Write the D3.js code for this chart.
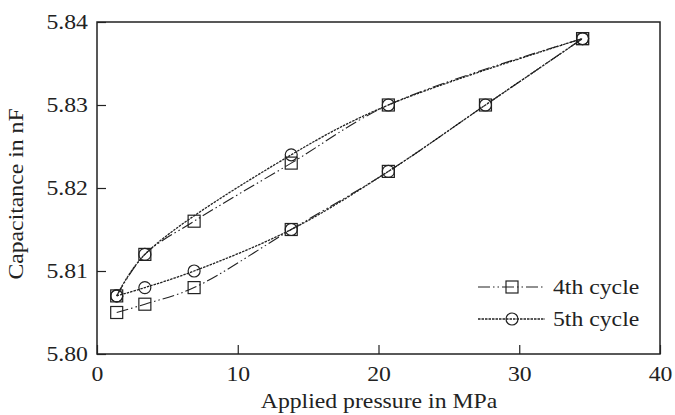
<!DOCTYPE html>
<html><head><meta charset="utf-8">
<script src="https://cdn.jsdelivr.net/npm/d3@7"></script>
<style>body{margin:0;background:#fff}svg{display:block}text{font-family:"Liberation Serif","Times New Roman",serif;fill:#222}</style>
</head><body><svg id="c" width="675" height="415"></svg>
<script>
const xTicks = [0, 10, 20, 30, 40];
const yTicks = [5.80, 5.81, 5.82, 5.83, 5.84];
const load4 = [[1.4,5.805],[3.4,5.806],[6.9,5.808],[13.8,5.815],[20.7,5.822],[27.6,5.830],[34.5,5.838]];
const unload4 = [[34.5,5.838],[20.7,5.830],[13.8,5.823],[6.9,5.816],[3.4,5.812],[1.4,5.807]];
const load5 = [[1.4,5.807],[3.4,5.808],[6.9,5.810],[13.8,5.815],[20.7,5.822],[27.6,5.830],[34.5,5.838]];
const unload5 = [[34.5,5.838],[20.7,5.830],[13.8,5.824],[3.4,5.812],[1.4,5.807]];
const seriesNames = ["4th cycle", "5th cycle"];

const svg = d3.select("#c");
const m = {l:97, r:660, t:22, b:354};
const x = d3.scaleLinear().domain([0,40]).range([m.l, m.r]);
const y = d3.scaleLinear().domain([5.80,5.84]).range([m.b, m.t]);
const col = "#222";
const FS = 21, SX = 1.13;

svg.append("rect").attr("x",m.l).attr("y",m.t).attr("width",m.r-m.l).attr("height",m.b-m.t)
  .attr("fill","none").attr("stroke",col).attr("stroke-width",1.5);

const xa = svg.append("g").attr("transform",`translate(0,${m.b})`)
  .call(d3.axisBottom(x).tickValues(xTicks).tickSize(-9).tickPadding(12).tickFormat(d3.format("d")));
const ya = svg.append("g").attr("transform",`translate(${m.l},0)`)
  .call(d3.axisLeft(y).tickValues(yTicks).tickSize(-9).tickPadding(8).tickFormat(d3.format(".2f")));
[xa,ya].forEach(a=>{a.select(".domain").remove();a.selectAll("line").attr("stroke",col).attr("stroke-width",1.2);
  a.selectAll("text").attr("font-size",FS).attr("fill",col).attr("transform",`scale(${SX},1)`);});
xa.selectAll("text").attr("dy","0.71em");

svg.append("text").attr("transform",`translate(379,408) scale(${SX},1)`).attr("text-anchor","middle").attr("font-size",FS).text("Applied pressure in MPa");
svg.append("text").attr("transform",`translate(23,194) rotate(-90) scale(${SX},1)`).attr("text-anchor","middle").attr("font-size",FS).text("Capacitance in nF");

const sortX = a => a.slice().sort((p,q)=>p[0]-q[0]);
const line = d3.line().x(d=>x(d[0])).y(d=>y(d[1])).curve(d3.curveCatmullRom.alpha(0.5));
const dash4 = "12,3,1.5,3,1.5,3";
const dash5 = "2.5,1";
[load4, unload4].forEach(b=>svg.append("path").attr("d",line(sortX(b))).attr("fill","none").attr("stroke",col).attr("stroke-width",1.1).attr("stroke-dasharray",dash4));
[load5, unload5].forEach(b=>svg.append("path").attr("d",line(sortX(b))).attr("fill","none").attr("stroke",col).attr("stroke-width",1.3).attr("stroke-dasharray",dash5));

const sq = 12, cr = 6;
svg.append("g").selectAll("rect").data(load4.concat(unload4)).join("rect")
  .attr("x",d=>x(d[0])-sq/2).attr("y",d=>y(d[1])-sq/2).attr("width",sq).attr("height",sq)
  .attr("fill","none").attr("stroke",col).attr("stroke-width",1.2);
svg.append("g").selectAll("circle").data(load5.concat(unload5)).join("circle")
  .attr("cx",d=>x(d[0])).attr("cy",d=>y(d[1])).attr("r",cr)
  .attr("fill","none").attr("stroke",col).attr("stroke-width",1.2);

const lg = svg.append("g");
const ly = [287, 319];
lg.append("line").attr("x1",478).attr("x2",545).attr("y1",ly[0]).attr("y2",ly[0]).attr("stroke",col).attr("stroke-width",1.1).attr("stroke-dasharray",dash4);
lg.append("rect").attr("x",512-sq/2).attr("y",ly[0]-sq/2).attr("width",sq).attr("height",sq).attr("fill","none").attr("stroke",col).attr("stroke-width",1.2);
lg.append("line").attr("x1",478).attr("x2",545).attr("y1",ly[1]).attr("y2",ly[1]).attr("stroke",col).attr("stroke-width",1.3).attr("stroke-dasharray",dash5);
lg.append("circle").attr("cx",512).attr("cy",ly[1]).attr("r",cr).attr("fill","none").attr("stroke",col).attr("stroke-width",1.2);
lg.selectAll("text.l").data(seriesNames).join("text").attr("class","l")
  .attr("transform",(d,i)=>`translate(553,${ly[i]+7}) scale(${SX},1)`).attr("font-size",FS).text(d=>d);
</script></body></html>
